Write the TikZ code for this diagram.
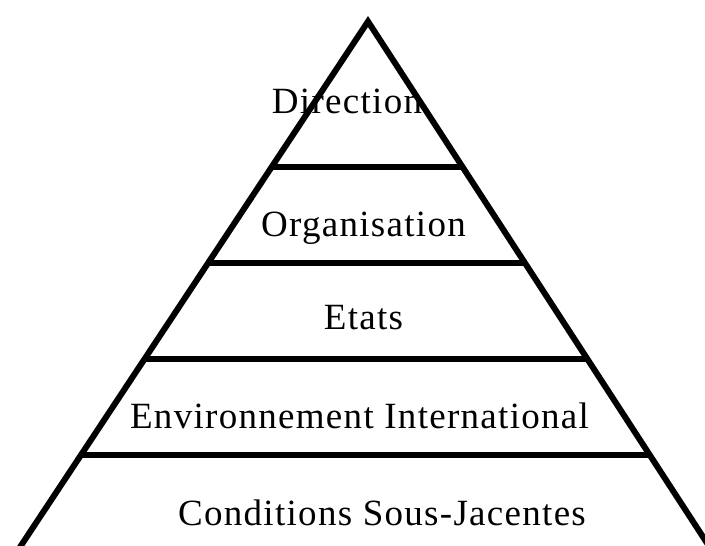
\documentclass[tikz,border=0pt]{standalone}
\usepackage{fontspec}
\setmainfont{Liberation Serif}
\newfontfamily\pyrfont[LetterSpace=3.5]{Liberation Serif}
\begin{document}
\begin{tikzpicture}[x=1pt,y=-1pt,
  sideline/.style={line width=6pt, line join=miter},
  levelline/.style={line width=6pt},
  lbl/.style={anchor=base, inner sep=0pt, font=\pyrfont\fontsize{37}{40}\selectfont}]
\useasboundingbox (0,0) rectangle (705,546);
\begin{scope}
\clip (0,0) rectangle (705,546);
\coordinate (apex) at (368,21.5);
\coordinate (bl) at (7.5,566);
\coordinate (br) at (721.9,566);
\draw[sideline] (bl) -- (apex) -- (br);
\coordinate (l1) at (272.0,166.5); \coordinate (r1) at (462.3,166.5);
\coordinate (l2) at (208.1,263);   \coordinate (r2) at (525.0,263);
\coordinate (l3) at (144.6,359);   \coordinate (r3) at (587.4,359);
\coordinate (l4) at (81.4,454.5);  \coordinate (r4) at (649.5,454.5);
\draw[levelline] (l1) -- (r1);
\draw[levelline] (l2) -- (r2);
\draw[levelline] (l3) -- (r3);
\draw[levelline] (l4) -- (r4);
\end{scope}
\node[lbl] (dir) at (347,113) {Direction};
\node[lbl] (org) at (363.5,236) {Organisation};
\node[lbl] (eta) at (363.5,329) {Etats};
\node[lbl] (env) at (359.5,428) {Environnement International};
\node[lbl] (con) at (382,525) {Conditions Sous-Jacentes};
\end{tikzpicture}
\end{document}
